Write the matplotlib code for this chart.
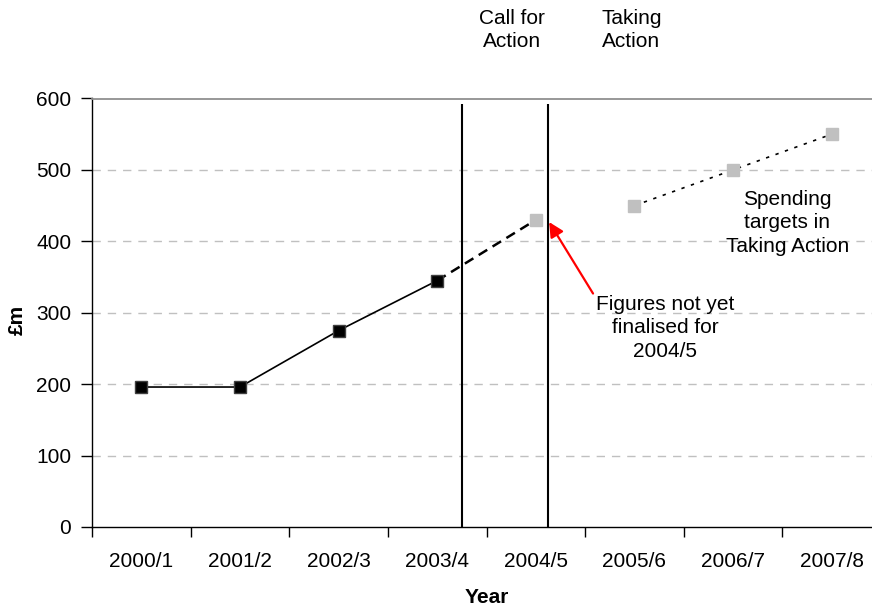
import numpy as np
import matplotlib
matplotlib.use("Agg")
import matplotlib.pyplot as plt

plt.rcParams['font.family'] = ['Liberation Sans', 'DejaVu Sans']

years = ["2000/1", "2001/2", "2002/3", "2003/4", "2004/5", "2005/6", "2006/7", "2007/8"]
actual = [196, 196, 275, 345]          # 2000/1 - 2003/4
provisional = 430                      # 2004/5, not finalised
targets = [450, 500, 550]              # 2005/6 - 2007/8 spending targets

x = np.arange(len(years))

fig = plt.figure(figsize=(8.72, 6.07), dpi=100)
ax = fig.add_axes([92 / 872, 80 / 607, 789 / 872, 428.5 / 607])

# gridlines
for v in range(100, 600, 100):
    ax.axhline(v, color='#c0c0c0', lw=1.0, linestyle=(0, (6, 5)), zorder=1)

# milestone lines
ax.vlines([3.25, 4.12], 0, 592, color='black', lw=1.5, zorder=2)

# actual spend
ax.plot(x[:4], actual, color='black', lw=1.2, marker='s', markersize=8.5,
        markerfacecolor='black', markeredgecolor='#404040', zorder=4)
# dashed link to provisional figure
ax.plot([x[3], x[4]], [actual[-1], provisional], color='black', lw=1.8,
        linestyle=(0, (4, 2.5)), zorder=3)
ax.plot(x[4], provisional, marker='s', markersize=8.5, color='#c0c0c0',
        linestyle='none', zorder=4)
# targets
ax.plot(x[5:], targets, color='black', lw=1.2, linestyle=(0, (2, 4)), zorder=3)
ax.plot(x[5:], targets, marker='s', markersize=8.5, color='#c0c0c0',
        linestyle='none', zorder=4)

ax.set_xlim(-0.5, len(years) - 0.5)
ax.set_ylim(0, 600)
ax.set_yticks(range(0, 601, 100))
ax.tick_params(axis='y', labelsize=15, length=8, width=1, pad=7)

ax.set_xticks(np.arange(-0.5, len(years), 1.0))
ax.set_xticklabels([])
ax.tick_params(axis='x', which='major', length=7, width=1)
ax.set_xticks(x, minor=True)
ax.set_xticklabels(years, minor=True)
ax.tick_params(axis='x', which='minor', length=0, labelsize=15, pad=18)

for s in ['left', 'bottom']:
    ax.spines[s].set_linewidth(1.0)
ax.spines['right'].set_visible(False)
ax.spines['top'].set_color('#909090')
ax.spines['top'].set_linewidth(1.3)

ax.set_xlabel("Year", fontsize=15, fontweight='bold')
ax.set_ylabel("£m", fontsize=15, fontweight='bold')
ax.xaxis.set_label_coords(0.5, -0.142)
ax.yaxis.set_label_coords(-0.083, 0.484)

ax.text(3.76, 696, "Call for\nAction", fontsize=15, ha='center', va='center',
        linespacing=1.3, clip_on=False)
ax.text(4.97, 696, "Taking\nAction", fontsize=15, ha='center', va='center',
        linespacing=1.3, clip_on=False)
ax.text(6.55, 426, "Spending\ntargets in\nTaking Action", fontsize=15, ha='center',
        va='center', linespacing=1.3)

ax.annotate("Figures not yet\nfinalised for\n2004/5", xy=(4.135, 427), xytext=(5.31, 279),
            fontsize=15, ha='center', va='center', linespacing=1.3,
            arrowprops=dict(arrowstyle='-|>', color='red', lw=1.6, mutation_scale=22,
                            shrinkA=0, shrinkB=0, relpos=(0.0, 0.95)))

fig.savefig("out.png", dpi=100)
